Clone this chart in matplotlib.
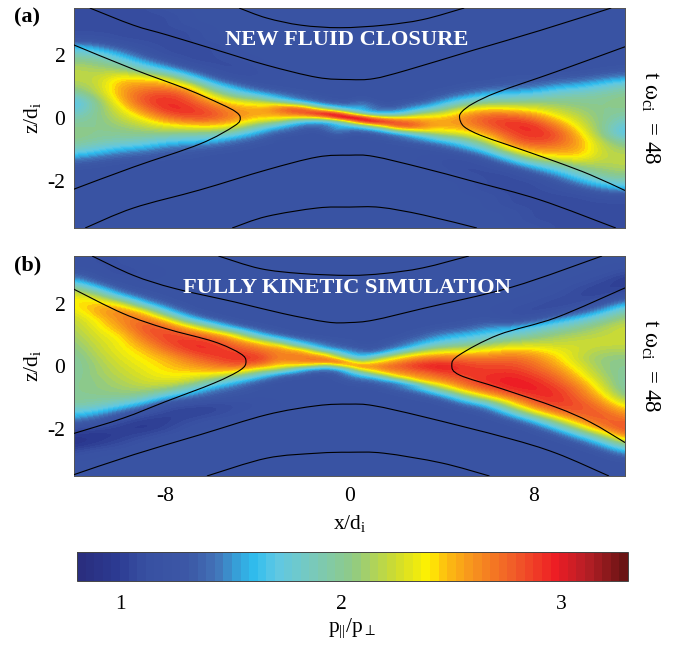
import matplotlib
matplotlib.use("Agg")
import matplotlib.pyplot as plt
import numpy as np
from matplotlib.colors import LinearSegmentedColormap
from matplotlib.path import Path
from matplotlib.patches import PathPatch

plt.rcParams['font.family'] = ['Liberation Serif', 'DejaVu Serif']
plt.rcParams['mathtext.fontset'] = 'custom'
plt.rcParams['mathtext.rm'] = 'Liberation Serif'
plt.rcParams['mathtext.it'] = 'Liberation Serif'
plt.rcParams['mathtext.cal'] = 'Liberation Serif'
plt.rcParams['axes.unicode_minus'] = False

# one list per column x = -12..12; each runs z = 3.5..-3.5 in steps of 0.25
fluid_cols = [
 [1.1]*4+[1.2,1.65,1.9,2.1,2.2,2.2,2.1,1.9,1.6,1.7,1.9,2.0,2.1,2.0,1.9,1.55,1.3]+[1.2]*8,
 [1.1]*4+[1.2,1.5,1.85,2.05,2.15,2.2,2.2,2.15,2.0,2.0,2.0,2.0,2.0,1.95,1.75,1.45,1.25]+[1.2]*8,
 [1.1]*5+[1.3,1.6,1.9,2.15,2.45,2.55,2.55,2.45,2.3,2.2,2.1,2.0,1.9,1.6,1.35,1.2]+[1.2]*8,
 [1.1]*5+[1.15,1.3,1.6,1.95,2.4,2.62,2.8,2.85,2.65,2.4,2.2,2.05,1.85,1.55,1.3,1.2]+[1.2]*8,
 [1.2,1.1,1.1,1.1,1.1,1.1,1.1,1.35,1.7,2.35,2.62,2.88,2.95,2.95,2.7,2.35,2.05,1.7,1.4,1.25,1.2]+[1.2]*8,
 [1.2,1.2,1.2,1.1,1.1,1.1,1.1,1.1,1.4,1.8,2.45,2.75,2.85,2.95,2.85,2.45,2.0,1.65,1.35,1.25,1.2]+[1.2]*8,
 [1.2]*5+[1.1,1.1,1.1,1.15,1.4,1.8,2.25,2.6,2.8,2.85,2.5,2.0,1.6,1.3,1.2,1.2]+[1.2]*8,
 [1.2]*7+[1.1,1.1,1.15,1.5,1.85,2.35,2.6,2.65,2.4,1.85,1.4,1.25,1.2,1.2]+[1.2]*8,
 [1.2]*8+[1.15,1.15,1.25,1.6,2.3,2.55,2.5,2.0,1.5,1.3,1.2,1.2,1.2]+[1.2]*8,
 [1.2]*11+[1.35,2.0,2.75,2.45,1.7,1.35,1.2]+[1.2]*11,
 [1.2]*11+[1.25,1.6,2.85,2.35,1.45,1.25,1.2]+[1.2]*11,
 [1.2]*11+[1.2,1.35,2.3,2.6,1.45,1.3,1.2]+[1.2]*11,
 [1.2]*11+[1.2,1.3,1.7,3.3,1.7,1.3,1.2]+[1.2]*11,
 [1.2]*11+[1.2,1.3,1.45,2.6,2.3,1.35,1.2]+[1.2]*11,
 [1.2]*11+[1.2,1.25,1.45,2.35,2.85,1.6,1.25]+[1.2]*11,
 [1.2]*11+[1.2,1.35,1.7,2.45,2.75,2.0,1.35]+[1.2]*11,
 [1.2]*8+[1.2,1.2,1.2,1.3,1.5,2.0,2.5,2.55,2.3,1.6,1.25,1.15,1.15]+[1.2]*8,
 [1.2]*8+[1.2,1.2,1.25,1.4,1.85,2.4,2.65,2.6,2.35,1.85,1.5,1.15,1.1,1.1]+[1.2]*7,
 [1.2]*8+[1.2,1.2,1.3,1.6,2.0,2.5,2.85,2.8,2.6,2.25,1.8,1.4,1.15,1.1,1.1,1.1]+[1.2]*5,
 [1.2]*8+[1.2,1.25,1.35,1.65,2.0,2.45,2.85,2.95,2.85,2.75,2.45,1.8,1.4,1.1,1.1,1.1,1.1]+[1.1,1.2,1.2,1.2],
 [1.2]*8+[1.2,1.25,1.4,1.7,2.05,2.35,2.7,2.95,2.95,2.88,2.62,2.35,1.7,1.35,1.1,1.1,1.1]+[1.1,1.1,1.1,1.2],
 [1.2]*8+[1.2,1.3,1.55,1.85,2.05,2.2,2.4,2.65,2.85,2.8,2.62,2.4,1.95,1.6,1.3,1.15]+[1.1]*5,
 [1.2]*8+[1.2,1.35,1.6,1.9,2.0,2.1,2.2,2.3,2.45,2.55,2.55,2.45,2.15,1.9,1.6,1.3]+[1.1]*5,
 [1.2]*8+[1.25,1.45,1.75,1.95,2.0,2.0,2.0,2.0,2.0,2.15,2.2,2.2,2.15,2.05,1.85,1.5,1.2]+[1.1]*4,
 [1.2]*8+[1.3,1.55,1.9,2.0,2.1,2.0,1.9,1.7,1.6,1.9,2.1,2.2,2.2,2.1,1.9,1.65,1.2]+[1.1]*4,
]

# fine block around the thin sheet: columns x = -4..4 step 0.5, rows z = 0.75..-0.75 step 0.125
fluid_fine = [
 [1.6,1.85,2.3,2.5,2.55,2.55,2.5,2.4,2.0,1.7,1.5,1.35,1.3],
 [1.45,1.7,2.1,2.55,2.6,2.55,2.45,2.2,1.85,1.55,1.4,1.3,1.25],
 [1.35,1.6,2.0,2.5,2.75,2.6,2.45,2.1,1.7,1.5,1.35,1.25,1.2],
 [1.3,1.45,1.8,2.45,2.85,2.7,2.4,1.85,1.55,1.4,1.3,1.2,1.2],
 [1.25,1.35,1.6,2.3,2.85,2.8,2.35,1.7,1.45,1.3,1.25,1.2,1.2],
 [1.2,1.3,1.45,1.85,2.6,3.0,2.4,1.65,1.4,1.3,1.2,1.2,1.2],
 [1.2,1.25,1.35,1.6,2.3,3.15,2.6,1.7,1.45,1.4,1.3,1.2,1.2],
 [1.2,1.2,1.3,1.5,1.9,3.0,3.1,1.9,1.6,1.55,1.4,1.3,1.2],
 [1.2,1.2,1.3,1.45,1.7,2.4,3.3,2.4,1.7,1.45,1.3,1.2,1.2],
 [1.2,1.3,1.4,1.55,1.6,1.9,3.1,3.0,1.9,1.5,1.3,1.2,1.2],
 [1.2,1.2,1.3,1.4,1.45,1.7,2.6,3.15,2.3,1.6,1.35,1.25,1.2],
 [1.2,1.2,1.2,1.3,1.4,1.65,2.4,3.0,2.6,1.85,1.45,1.3,1.2],
 [1.2,1.2,1.25,1.3,1.45,1.7,2.35,2.8,2.85,2.3,1.6,1.35,1.25],
 [1.2,1.2,1.3,1.4,1.55,1.85,2.4,2.7,2.85,2.45,1.8,1.45,1.3],
 [1.2,1.25,1.35,1.5,1.7,2.1,2.45,2.6,2.75,2.5,2.0,1.6,1.35],
 [1.25,1.3,1.4,1.55,1.85,2.2,2.45,2.55,2.6,2.55,2.1,1.7,1.45],
 [1.3,1.35,1.5,1.7,2.0,2.4,2.5,2.55,2.55,2.5,2.3,1.85,1.6],
]

kinetic_cols = [
 [1.2,1.15,1.3,1.6,2.1,2.35,2.4,2.3,2.2,2.15,2.1,2.05,2.0,1.95,1.95,1.95,2.0,2.0,2.0,1.95,1.7,1.45,1.1,0.95,0.9,1.1,1.2,1.2,1.2],
 [1.15,1.15,1.2,1.25,1.65,2.25,2.5,2.55,2.4,2.35,2.3,2.25,2.2,2.15,2.1,2.1,2.05,2.05,2.0,1.9,1.6,1.3,1.05,0.95,1.0,1.2,1.2,1.2,1.2],
 [1.15,1.15,1.1,1.2,1.25,1.6,2.4,2.7,2.65,2.55,2.4,2.35,2.35,2.3,2.25,2.2,2.15,2.1,2.0,1.75,1.35,1.1,1.0,1.0,1.1,1.2,1.2,1.2,1.2],
 [1.2,1.2,1.15,1.2,1.2,1.3,1.65,2.5,2.75,2.85,2.75,2.6,2.45,2.4,2.35,2.3,2.25,2.15,1.95,1.5,1.15,1.0,0.95,1.1,1.2,1.2,1.2,1.2,1.2],
 [1.2]*6+[1.3,1.7,2.45,2.8,2.9,2.85,2.7,2.5,2.45,2.4,2.3,2.1,1.6,1.15,1.05,1.0,1.05,1.2]+[1.2]*5,
 [1.2]*7+[1.25,1.7,2.5,2.8,2.95,2.9,2.7,2.55,2.4,2.25,1.8,1.4,1.1,1.0,1.1,1.2]+[1.2]*6,
 [1.2]*8+[1.3,2.0,2.7,2.9,2.95,2.85,2.65,2.4,1.95,1.45,1.3,1.05,1.05,1.2]+[1.2]*7,
 [1.2]*9+[1.4,2.4,2.7,2.85,2.95,2.8,2.3,1.6,1.35,1.2,1.1,1.15]+[1.2]*8,
 [1.2]*9+[1.25,1.6,2.55,2.75,2.95,2.7,1.85,1.35,1.2,1.2,1.15,1.2]+[1.2]*8,
 [1.2]*10+[1.3,2.0,2.6,2.65,2.4,1.6,1.25,1.2]+[1.2]*11,
 [1.2]*10+[1.2,1.5,2.4,2.7,2.35,1.4,1.2,1.2]+[1.2]*11,
 [1.2]*10+[1.2,1.3,1.7,2.6,2.0,1.3,1.2,1.2]+[1.2]*11,
 [1.2]*10+[1.2,1.25,1.45,1.9,2.6,1.6,1.3,1.2]+[1.2]*11,
 [1.2]*10+[1.2,1.2,1.3,1.9,2.6,2.15,1.4,1.2]+[1.2]*11,
 [1.2]*10+[1.2,1.3,1.6,2.35,2.75,2.55,1.6,1.3]+[1.2]*11,
 [1.2]*10+[1.3,1.5,2.0,2.6,2.9,2.7,2.4,1.45,1.25]+[1.2]*10,
 [1.2]*9+[1.25,1.5,1.75,2.3,2.75,3.05,2.85,2.6,2.1,1.35,1.2]+[1.2]*9,
 [1.2]*9+[1.3,1.6,1.85,2.3,2.7,2.9,2.9,2.8,2.6,1.9,1.35,1.2]+[1.2]*8,
 [1.2]*8+[1.25,1.5,1.7,2.0,2.4,2.7,2.85,2.9,2.95,2.8,2.4,1.6,1.25]+[1.2]*8,
 [1.2]*7+[1.15,1.15,1.5,1.8,2.15,2.5,2.75,2.85,2.95,3.0,2.95,2.7,2.3,1.7,1.25]+[1.2]*7,
 [1.2]*6+[1.15,1.05,1.25,1.7,1.95,2.2,2.45,2.65,2.75,2.85,2.95,3.0,2.9,2.75,2.3,1.6,1.25]+[1.2]*6,
 [1.2]*5+[1.15,1.05,1.15,1.5,1.85,2.1,2.2,2.35,2.45,2.55,2.7,2.8,2.9,2.95,2.9,2.7,2.2,1.6,1.25]+[1.2]*5,
 [1.2]*4+[1.1,1.05,1.1,1.3,1.7,2.0,2.15,2.25,2.25,2.2,2.3,2.4,2.55,2.7,2.75,2.85,2.8,2.65,2.2,1.6,1.25]+[1.2]*4,
 [1.2]*3+[1.1,1.0,1.05,1.25,1.6,1.95,2.15,2.2,2.25,2.15,2.05,2.05,2.1,2.2,2.3,2.5,2.65,2.8,2.8,2.7,2.1,1.6,1.25]+[1.2]*3,
 [1.2,1.2,1.1,0.95,1.05,1.2,1.6,1.95,2.15,2.25,2.25,2.25,2.15,2.05,2.0,1.95,1.9,1.9,2.0,2.3,2.55,2.75,2.85,2.7,2.1,1.6,1.25,1.2,1.2],
]

kinetic_fine = [
 [2.55,2.65,2.75,2.8,2.95,2.95,2.7,2.35,1.85,1.55,1.35,1.25,1.2],
 [2.4,2.55,2.7,2.7,2.75,2.7,2.5,2.3,1.75,1.45,1.3,1.2,1.2],
 [2.0,2.45,2.6,2.65,2.65,2.6,2.4,2.1,1.6,1.35,1.25,1.2,1.2],
 [1.7,2.1,2.5,2.65,2.7,2.6,2.4,1.85,1.5,1.3,1.2,1.2,1.2],
 [1.5,1.85,2.4,2.6,2.7,2.65,2.35,1.6,1.4,1.25,1.2,1.2,1.2],
 [1.35,1.6,2.0,2.45,2.7,2.7,2.2,1.5,1.3,1.2,1.2,1.2,1.2],
 [1.3,1.45,1.7,2.3,2.6,2.75,2.0,1.45,1.3,1.2,1.2,1.2,1.2],
 [1.25,1.35,1.55,1.85,2.3,2.8,2.3,1.55,1.35,1.3,1.25,1.2,1.2],
 [1.25,1.3,1.45,1.6,1.9,2.5,2.6,1.9,1.6,1.4,1.3,1.25,1.2],
 [1.2,1.25,1.35,1.5,1.7,2.1,2.7,2.4,1.8,1.55,1.35,1.25,1.2],
 [1.2,1.25,1.3,1.55,1.9,2.35,2.6,2.5,2.15,1.6,1.4,1.3,1.2],
 [1.25,1.3,1.45,1.7,2.2,2.45,2.7,2.65,2.4,1.9,1.5,1.35,1.25],
 [1.3,1.4,1.6,2.0,2.35,2.6,2.75,2.7,2.55,2.3,1.6,1.4,1.3],
 [1.35,1.5,1.8,2.2,2.5,2.7,2.85,2.75,2.65,2.45,2.0,1.5,1.35],
 [1.5,1.7,2.0,2.35,2.6,2.8,2.9,2.85,2.7,2.6,2.4,1.7,1.45],
 [1.6,1.85,2.15,2.45,2.7,2.85,3.0,2.9,2.75,2.65,2.55,2.2,1.7],
 [1.75,2.0,2.3,2.55,2.75,2.9,3.05,3.0,2.85,2.7,2.6,2.5,2.1],
]

# field lines as (x, z)
lines_fluid = [
 [(-4.8,3.52),(-3.6,3.2),(-2.1,2.97),(-0.4,2.89),(1.5,2.97),(3.2,3.15),(5,3.52)],
 [(-11.3,3.52),(-9.4,2.97),(-7.9,2.65),(-5.75,2.17),(-3.6,1.69),(-1.4,1.3),(0,1.23),(1.06,1.26),(2.5,1.53),(5.4,2.17),(8.3,2.8),(11.4,3.52)],
 [(-12,2.34),(-9.4,1.56),(-7.1,0.93),(-5.6,0.45),(-4.95,0.2),(-4.75,0),(-5,-0.25),(-6.5,-0.83),(-9.4,-1.57),(-12,-2.28)],
 [(12,2.28),(9,1.48),(6.5,0.84),(5.4,0.47),(4.9,0.2),(4.8,0),(5,-0.28),(5.7,-0.55),(6.9,-0.86),(9,-1.4),(10.5,-1.82),(12,-2.32)],
 [(-11.5,-3.52),(-9.4,-2.88),(-6.5,-2.3),(-3.6,-1.66),(-1.4,-1.25),(0,-1.19),(1.06,-1.23),(3.2,-1.6),(5.4,-2.03),(8.3,-2.62),(11.6,-3.52)],
 [(-5.1,-3.52),(-3.6,-3.15),(-1.4,-2.88),(0,-2.85),(1.35,-2.86),(3.2,-3.1),(5.55,-3.52)],
]
lines_kinetic = [
 [(-5.7,3.52),(-3.9,3.12),(-2.1,2.96),(0,2.9),(1.5,2.96),(3.2,3.14),(5.2,3.52)],
 [(-11.2,3.52),(-9.4,2.9),(-7.6,2.48),(-5,2.05),(-2.9,1.68),(-1,1.41),(0,1.39),(1.06,1.47),(3.2,1.84),(7.1,2.53),(11,3.52)],
 [(-12,2.46),(-9.85,1.68),(-8,1.2),(-5.9,0.78),(-4.75,0.4),(-4.5,0.14),(-4.75,-0.13),(-5.9,-0.55),(-8,-1.14),(-9.85,-1.67),(-12,-2.16)],
 [(12,2.5),(9,1.55),(6.5,1.0),(4.8,0.36),(4.46,0.03),(4.8,-0.29),(6.6,-0.72),(9,-1.32),(10.5,-1.8),(12,-2.45)],
 [(-12,-3.48),(-9.4,-2.84),(-6.5,-2.2),(-3.6,-1.56),(-1.4,-1.27),(0,-1.22),(1.06,-1.27),(3.2,-1.62),(6.85,-2.3),(9,-2.79),(11.3,-3.52)],
 [(-6.2,-3.52),(-3.6,-2.95),(-1.4,-2.79),(0,-2.76),(1.5,-2.79),(4,-3.1),(6.1,-3.52)],
]

x_ticks = [-8, 0, 8]
z_ticks = [-2, 0, 2]
cbar_ticks = [1, 2, 3]
panel_titles = ['NEW FLUID CLOSURE', 'FULLY KINETIC SIMULATION']
panel_tags = ['(a)', '(b)']

cmap = LinearSegmentedColormap.from_list('ratio', [
 (0.00,'#2a2e7f'),(0.06,'#2b3990'),(0.12,'#3850a2'),(0.20,'#3c58a6'),(0.25,'#4274b8'),
 (0.29,'#35a4dc'),(0.32,'#2fbdee'),(0.36,'#5fc8e4'),(0.42,'#76c9c0'),(0.50,'#8fca86'),
 (0.58,'#cfdc2e'),(0.64,'#fff200'),(0.67,'#fdc010'),(0.72,'#f7941d'),(0.80,'#f15a29'),
 (0.875,'#ed1c24'),(0.93,'#b71f26'),(1.00,'#6b1414')], N=64)
vmin, vmax = 0.805, 3.30

W, H = 688, 647
fig = plt.figure(figsize=(W/100, H/100), dpi=100)

def add_axes(l, t, r, b):
    return fig.add_axes([l/W, 1-b/H, (r-l)/W, (b-t)/H])

def smooth_path(points):
    p = np.array(points, float)
    q = np.vstack([p[0], p, p[-1]])
    verts, codes = [p[0]], [Path.MOVETO]
    for k in range(1, len(q)-2):
        verts += [q[k]+(q[k+1]-q[k-1])/6, q[k+1]-(q[k+2]-q[k])/6, q[k+1]]
        codes += [Path.CURVE4]*3
    return Path(verts, codes)

FS = 15.5
boxes = [(73.7, 8, 625, 228), (73.7, 256, 625, 476)]
sets = [(fluid_cols, fluid_fine, lines_fluid), (kinetic_cols, kinetic_fine, lines_kinetic)]
for i, ((cols, fine, lines), box) in enumerate(zip(sets, boxes)):
    ax = add_axes(*box)
    common = dict(aspect='auto', cmap=cmap, vmin=vmin, vmax=vmax, interpolation='bicubic', interpolation_stage='data')
    im = ax.imshow(np.array(cols).T, extent=(-12.5, 12.5, -3.625, 3.625), **common)
    fine_arr = np.array(fine).T
    fade = np.ones_like(fine_arr)
    fade[:, 0] = fade[:, -1] = fade[0, :] = fade[-1, :] = 0
    fade[:, 1] = np.minimum(fade[:, 1], 0.5)
    fade[:, -2] = np.minimum(fade[:, -2], 0.5)
    ax.imshow(fine_arr, extent=(-4.25, 4.25, -0.8125, 0.8125), zorder=1, alpha=fade, **common)
    for ln in lines:
        ax.add_patch(PathPatch(smooth_path(ln), fill=False, edgecolor='black', lw=0.8, zorder=3))
    ax.set_xlim(-12, 12)
    ax.set_ylim(-3.52, 3.52)
    ax.set_yticks(z_ticks)
    ax.tick_params(length=0, labelsize=FS, pad=6)
    if i == 1:
        ax.set_xticks(x_ticks)
        ax.tick_params(axis='x', pad=8)
        ax.set_xlabel(r'x/d$_{\mathrm{i}}$', fontsize=FS, labelpad=5)
    else:
        ax.set_xticks([])
    ax.set_ylabel(r'z/d$_{\mathrm{i}}$', fontsize=FS, labelpad=3)
    for s in ax.spines.values():
        s.set_linewidth(0.7)
        s.set_color('#555555')
    ax.text(0.495, 0.855, panel_titles[i], transform=ax.transAxes, color='white',
            fontsize=16.2, ha='center', va='center', fontweight='bold', zorder=4)
    fig.text(14/W, 1-(17 if i == 0 else 265)/H, panel_tags[i], fontsize=16, fontweight='bold', va='center')
    fig.text(650/W, 1-(118 if i == 0 else 366)/H, r't $\omega_{\mathrm{ci}}$  = 48', fontsize=FS+1,
             rotation=270, ha='center', va='center')

cax = add_axes(77, 552, 628, 581)
cb = fig.colorbar(im, cax=cax, orientation='horizontal', ticks=cbar_ticks)
cax.tick_params(length=0, labelsize=FS, pad=10)
cb.outline.set_linewidth(0.7)
cb.outline.set_edgecolor('#444444')
cb.set_label(r'p$_{||}$/p$_{\perp}$', fontsize=FS, labelpad=2)

fig.savefig('out.png', dpi=100)
